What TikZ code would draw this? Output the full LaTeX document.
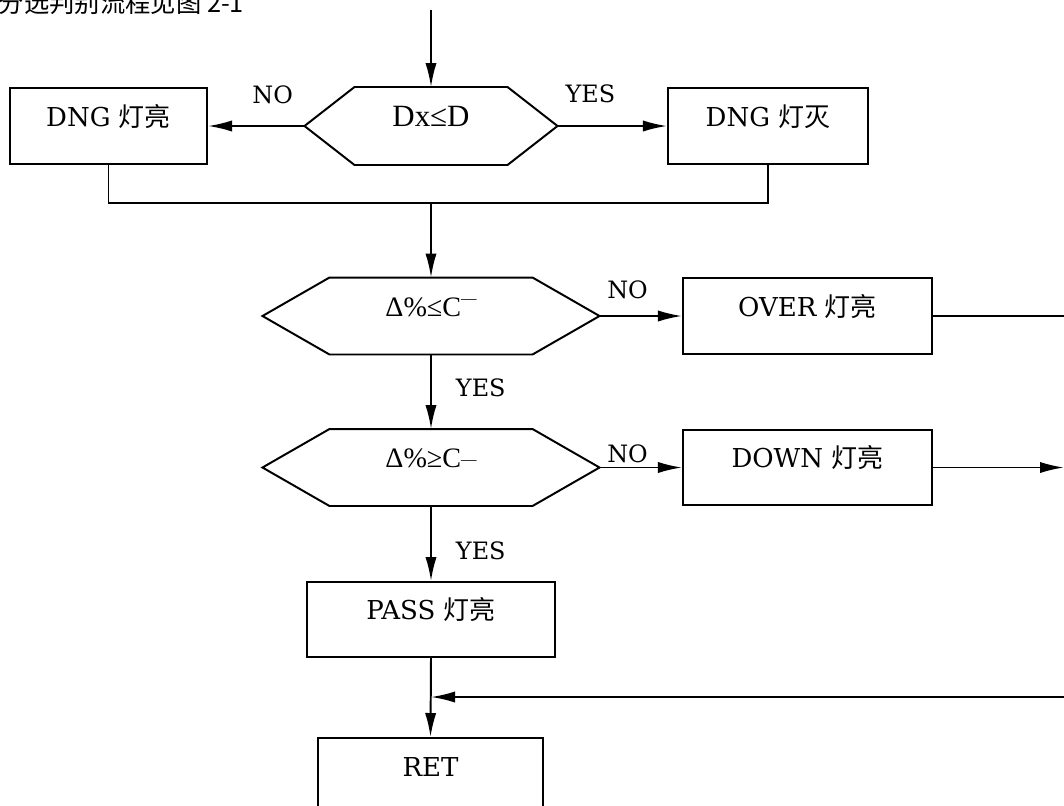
\documentclass[tikz,border=0pt]{standalone}
\usepackage{fontspec}
\setmainfont{DejaVu Serif}
\newfontfamily\cjk{Noto Sans CJK SC}
\newfontfamily\tms{Liberation Serif}
\usetikzlibrary{arrows.meta}

\tikzset{
  box/.style={draw, minimum height=1.9cm, inner sep=0pt, text height=13pt, text depth=13pt, font=\fontsize{18.5}{22}\selectfont},
  hexa/.style={minimum height=1.9cm, inner sep=0pt, text height=13pt, text depth=13pt, font=\tms\fontsize{20}{22}\selectfont},
  lbl/.style={font=\fontsize{17}{20}\selectfont, inner sep=0pt, anchor=base}
}
% outline of a decision box, drawn round a named node
\newcommand\hexline[2]{\draw (#1.west) -- ([xshift=#2]#1.north west) -- ([xshift=-#2]#1.north east) -- (#1.east) -- ([xshift=-#2]#1.south east) -- ([xshift=#2]#1.south west) -- cycle;}

\begin{document}
\begin{tikzpicture}[x=0.025cm, y=-0.025cm, line width=1.4pt, >={Latex[length=0.6cm,width=0.28cm]}]
\clip (0,0) rectangle (1064,805);
\node[anchor=base west, inner sep=0pt, font=\cjk\fontsize{18}{20}\selectfont] (title) at (-2,12) {分选判别流程见图 2-1};

% first test
\coordinate (start) at (431,10);
\node[hexa, minimum width=6.275cm, font=\tms\fontsize{22}{24}\selectfont] (dx) at (431,126) {Dx≤D};
\node[box, minimum width=4.925cm] (dngon) at (108.5,126) {DNG {\cjk 灯亮}};
\node[box, minimum width=5cm] (dngoff) at (768,126) {DNG {\cjk 灯灭}};
\coordinate (join) at (431,203);
\hexline{dx}{1.25cm}

% limits
\node[hexa, minimum width=8.375cm, minimum height=1.875cm] (cup) at (431,316) {Δ\%≤C\raisebox{9pt}{\fontsize{11}{11}\selectfont —}};
\node[box, minimum width=6.225cm] (over) at (807.5,316) {OVER {\cjk 灯亮}};
\node[hexa, minimum width=8.375cm, minimum height=1.875cm] (clow) at (431,467.5) {Δ\%≥C\raisebox{2.4pt}{\fontsize{11}{11}\selectfont —}};
\node[box, minimum width=6.225cm, minimum height=1.875cm] (down) at (807.5,467.5) {DOWN {\cjk 灯亮}};
\node[box, minimum width=6.175cm, minimum height=1.875cm] (pass) at (431,619.5) {PASS {\cjk 灯亮}};
\node[box, minimum width=5.625cm] (ret) at (430.5,776) {RET};
\hexline{cup}{1.675cm}
\hexline{clow}{1.675cm}
\coordinate (overend) at (1064,316);
\coordinate (downend) at (1064,467.5);
\coordinate (backin) at (1064,697);

% connectors
\draw[->] (start) -- (dx.north);
\draw[->] (dx.west) -- node[lbl, pos=.33, yshift=0.575cm] {NO} (dngon.east);
\draw[->] (dx.east) -- node[lbl, pos=.3, yshift=0.6cm] {YES} (dngoff.west);
\draw (dngon.south) |- (join) -| (dngoff.south);
\draw[->] (join) -- (cup.north);
\draw[->] (cup.east) -- node[lbl, pos=.34, yshift=0.45cm] {NO} (over.west);
\draw (over.east) -- (overend);
\draw[->] (cup.south) -- node[lbl, pos=.56, anchor=base west, xshift=0.6cm] {YES} (clow.north);
\draw[->] (clow.east) -- node[lbl, pos=.34, yshift=0.13cm] {NO} (down.west);
\draw[->] (down.east) -- (downend);
\draw[->] (clow.south) -- node[lbl, pos=.71, anchor=base west, xshift=0.6cm] {YES} (pass.north);
\draw[->] (pass.south) -- (ret.north);
\draw[->] (backin) -- (pass.south |- backin);
\end{tikzpicture}
\end{document}
